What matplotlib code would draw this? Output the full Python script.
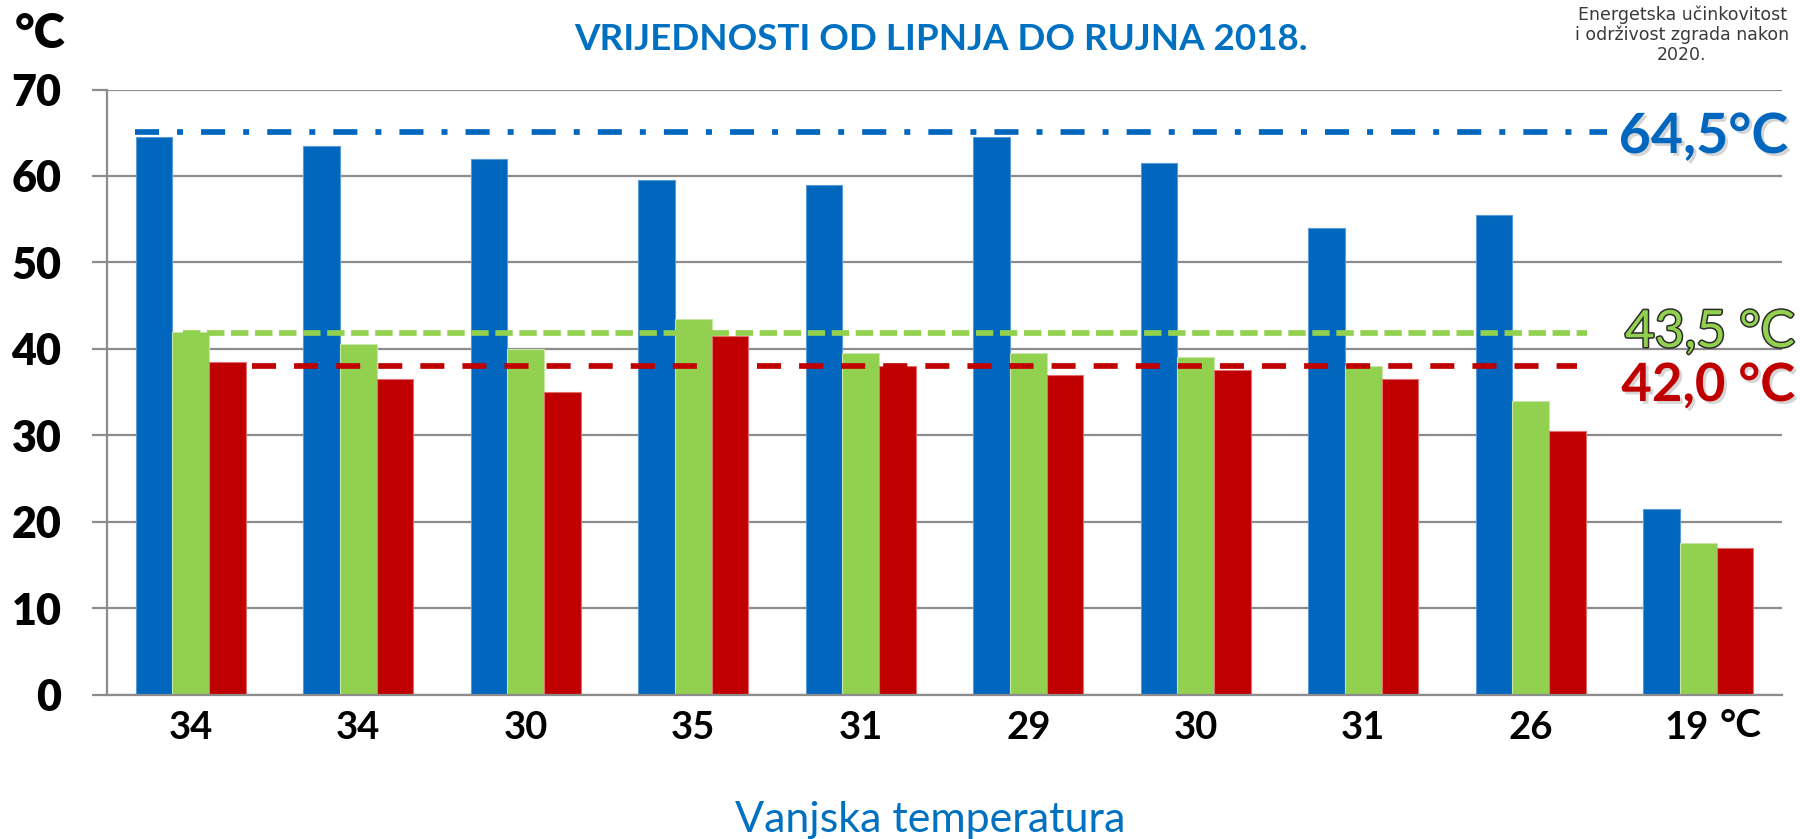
import matplotlib
matplotlib.use("Agg")
import matplotlib.pyplot as plt
import numpy as np
from matplotlib import patheffects as pe
from matplotlib.transforms import ScaledTranslation

# ---------------- data ----------------
outside_temps = ["34", "34", "30", "35", "31", "29", "30", "31", "26", "19"]
blue_vals = [64.5, 63.5, 62.0, 59.5, 59.0, 64.5, 61.5, 54.0, 55.5, 21.5]
green_vals = [42.0, 40.5, 40.0, 43.5, 39.5, 39.5, 39.0, 38.0, 34.0, 17.5]
red_vals = [38.5, 36.5, 35.0, 41.5, 38.0, 37.0, 37.5, 36.5, 30.5, 17.0]
ref_levels = [65.1, 41.8, 38.0]          # blue, green, red reference lines
ref_labels = ["64,5°C", "43,5 °C", "42,0 °C"]
y_ticks = [0, 10, 20, 30, 40, 50, 60, 70]

title = "VRIJEDNOSTI OD LIPNJA DO RUJNA 2018."
xlabel = "Vanjska temperatura"
corner_note = "Energetska učinkovitost\ni održivost zgrada nakon\n2020."

# ---------------- style ----------------
BLUE = "#0066BE"
TITLE_BLUE = "#0070C0"
GREEN = "#92D050"
RED = "#C00000"
GRID = "#8C8C8C"
FONT = ["Lato", "DejaVu Sans"]

W, H = 1800, 839
fig = plt.figure(figsize=(W / 100, H / 100), dpi=100)
fig.patch.set_facecolor("white")

def fx(px):
    return px / W

def fy(py):
    return 1 - py / H

ax_left, ax_right, ax_top, ax_bottom = 107, 1782, 89.5, 694.5
ax = fig.add_axes([fx(ax_left), fy(ax_bottom), fx(ax_right - ax_left), (ax_bottom - ax_top) / H])

n = len(outside_temps)
x = np.arange(n)
w = 0.219

ax.bar(x - w, blue_vals, w, color=BLUE, edgecolor="#5B9BD5", linewidth=0.8, zorder=2)
ax.bar(x, green_vals, w, color=GREEN, edgecolor="#C5E6A6", linewidth=0.8, zorder=2)
ax.bar(x + w, red_vals, w, color=RED, edgecolor="#E07070", linewidth=0.8, zorder=2)

# reference lines
ref_spans = [(-0.333, 8.455), (-0.045, 8.334), (0.364, 8.274)]
ref_colors = [BLUE, GREEN, RED]
ref_dashes = [(17.3, 13, 4.3, 13), (12.5, 4.8), (17.3, 13)]
for lvl, (x0, x1), c, d in zip(ref_levels, ref_spans, ref_colors, ref_dashes):
    ln, = ax.plot([x0, x1], [lvl, lvl], color=c, lw=4.1, zorder=4,
                  solid_capstyle="butt", dash_capstyle="butt")
    ln.set_dashes(d)
    ln._dash_pattern = ln._unscaled_dash_pattern  # keep dashes in points

ax.set_xlim(-0.5, n - 0.5)
ax.set_ylim(0, 70)
ax.set_yticks(y_ticks)
ax.set_yticklabels([str(t) for t in y_ticks], fontsize=31, fontweight="heavy",
                   family=FONT, color="black")
ax.set_xticks(x)
ax.set_xticklabels(outside_temps, fontsize=27.5, fontweight="bold", family=FONT, color="black")

ax.grid(axis="y", color=GRID, lw=1.6, zorder=0)
ax.set_axisbelow(True)
for s in ["top", "right"]:
    ax.spines[s].set_visible(False)
for s in ["left", "bottom"]:
    ax.spines[s].set_color(GRID)
    ax.spines[s].set_linewidth(1.6)
ax.tick_params(axis="y", length=10.8, width=1.6, color=GRID, pad=22)
ax.tick_params(axis="x", length=0, pad=12)

# shift last tick label slightly left
lab = ax.get_xticklabels()[-1]
lab.set_transform(lab.get_transform() + ScaledTranslation(-12 / 100, 0, fig.dpi_scale_trans))

# texts
fig.text(fx(941), fy(50), title, ha="center", va="baseline", fontsize=26.5,
         fontweight="bold", color=TITLE_BLUE, family=FONT)
fig.text(fx(15), fy(48), "°C", ha="left", va="baseline", fontsize=34,
         fontweight="heavy", color="black", family=FONT)
fig.text(fx(1720), fy(737), "°C", ha="left", va="baseline", fontsize=28,
         fontweight="bold", color="black", family=FONT)
fig.text(fx(930), fy(832), xlabel, ha="center", va="baseline", fontsize=31,
         color=TITLE_BLUE, family=FONT)
fig.text(fx(1682), fy(6), corner_note, ha="center", va="top", fontsize=12.5,
         color="#3a3a3a", family=["DejaVu Sans"], linespacing=1.1, multialignment="center")

shadow = [pe.SimplePatchShadow(offset=(2, -2), shadow_rgbFace="#888888", alpha=0.35), pe.Normal()]
fig.text(fx(1788), fy(153), ref_labels[0], ha="right", va="baseline", fontsize=40,
         fontweight="bold", color=BLUE, family=FONT, path_effects=shadow)
fig.text(fx(1795), fy(347), ref_labels[1], ha="right", va="baseline", fontsize=37,
         color=GREEN, family=FONT,
         path_effects=[pe.withStroke(linewidth=2.2, foreground="#2b2b2b")])
fig.text(fx(1795), fy(401), ref_labels[2], ha="right", va="baseline", fontsize=38,
         fontweight="bold", color=RED, family=FONT, path_effects=shadow)

fig.savefig("out.png", dpi=100, facecolor="white")
